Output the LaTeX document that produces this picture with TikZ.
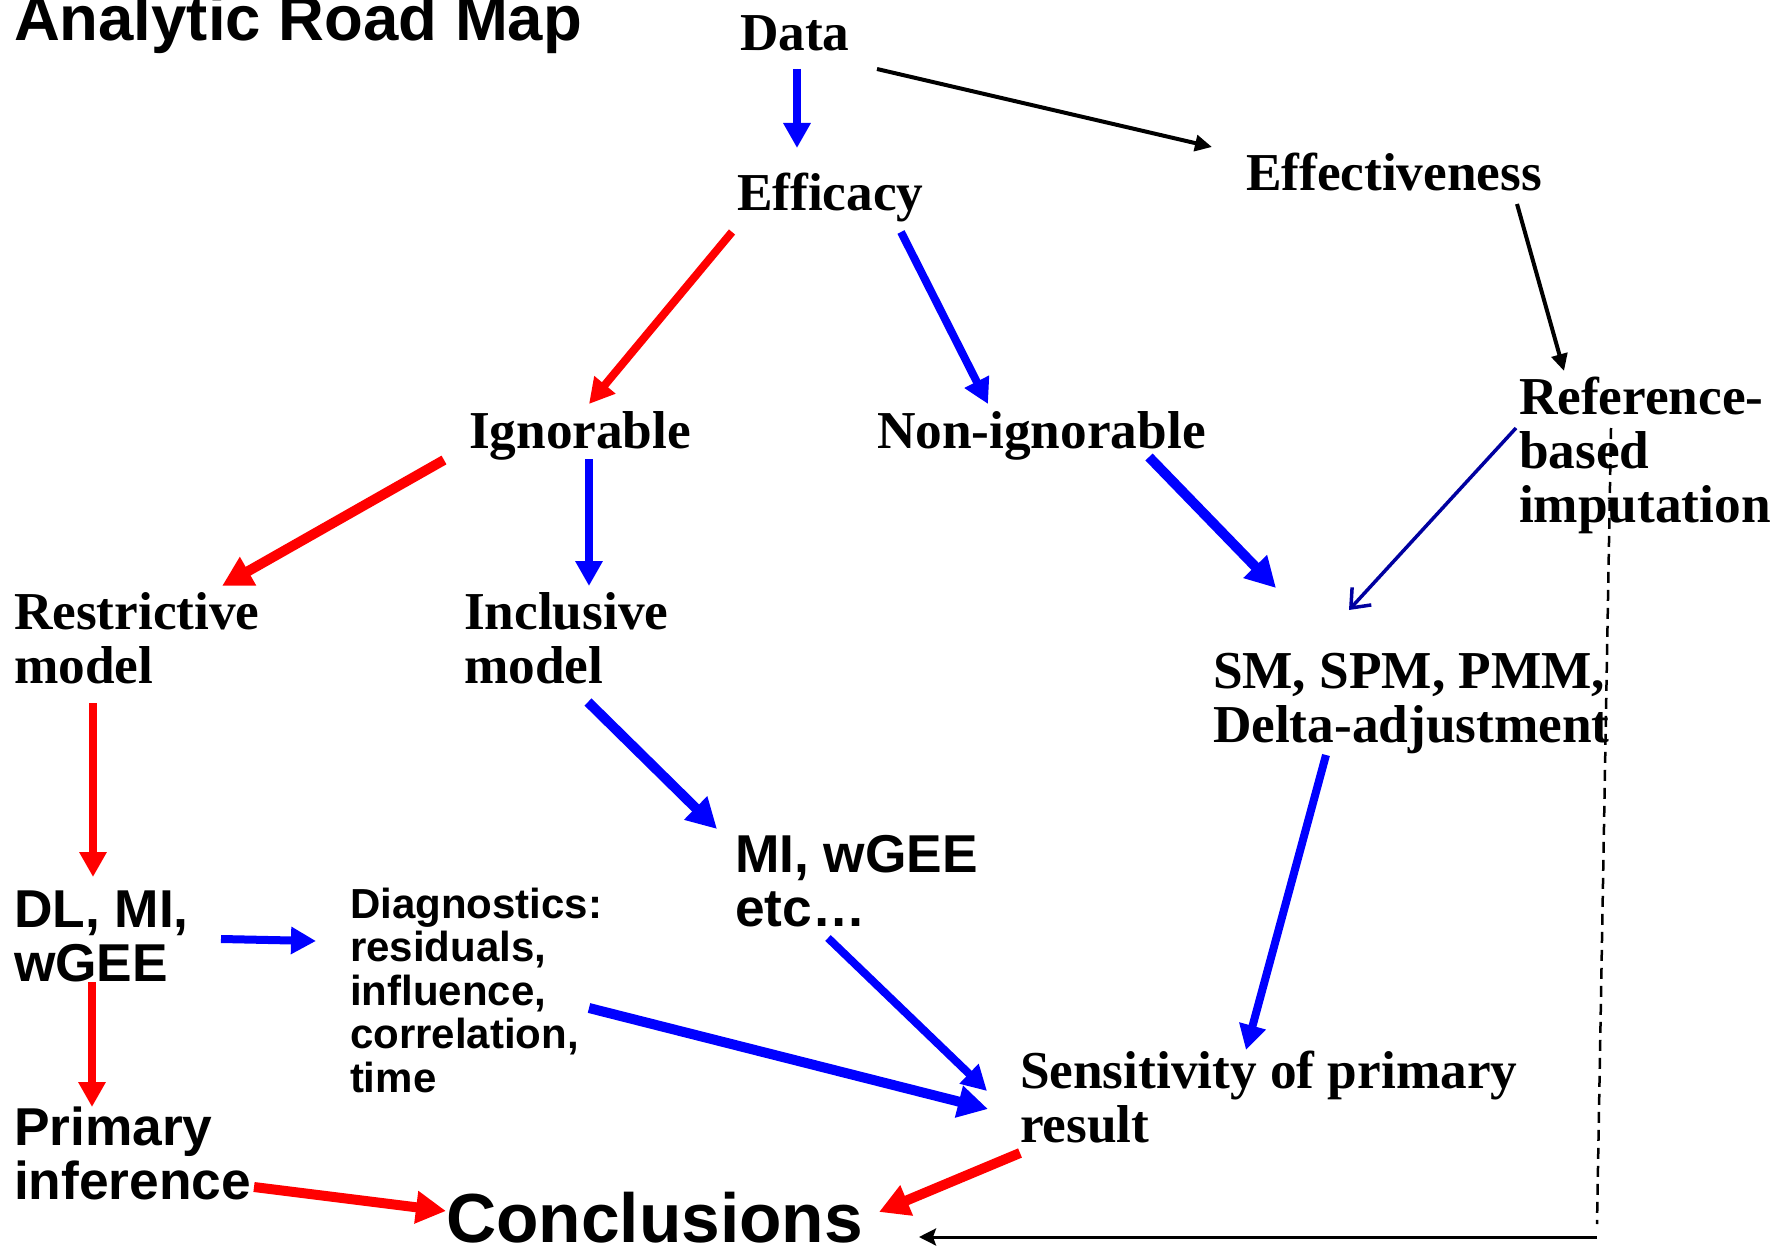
\documentclass[tikz,border=0pt]{standalone}
\usepackage{fontspec}
\setmainfont{Liberation Serif}
\setsansfont{Liberation Sans}
\usetikzlibrary{arrows.meta}
\definecolor{pblue}{RGB}{0,0,255}
\definecolor{pred}{RGB}{255,0,0}
\definecolor{pnavy}{RGB}{0,0,160}
\newcommand{\mlines}[1]{\begin{tabular}[t]{@{}l@{}}#1\end{tabular}}
\begin{document}
\begin{tikzpicture}[x=1pt,y=-1pt,
  lbl/.style={anchor=base west, inner sep=0pt, outer sep=0pt},
  serifbig/.style={lbl, font=\fontsize{53.3}{54}\selectfont\rmfamily\bfseries},
  sansbig/.style={lbl, font=\fontsize{53.3}{54}\selectfont\sffamily\bfseries},
  sanssmall/.style={lbl, font=\fontsize{42}{43.5}\selectfont\sffamily\bfseries},
  titlefont/.style={lbl, font=\fontsize{63.5}{64}\selectfont\sffamily\bfseries},
  conclfont/.style={lbl, font=\fontsize{69.5}{70}\selectfont\sffamily\bfseries},
  medarrow/.style={line width=8pt, -{Triangle[length=25pt,width=26pt]}},
  thickarrow/.style={line width=10pt, -{Triangle[length=30pt,width=31pt]}},
  bluemed/.style={medarrow, draw=pblue, fill=pblue},
  bluethick/.style={thickarrow, draw=pblue, fill=pblue},
  redmed/.style={medarrow, draw=pred, fill=pred},
  redthick/.style={thickarrow, draw=pred, fill=pred},
  blackarrow/.style={line width=4pt, draw=black, -{Triangle[length=17pt,width=16pt]}},
  navyarrow/.style={line width=3.5pt, draw=pnavy, -{Straight Barb[length=16pt,width=26pt]}},
  dashline/.style={line width=2.5pt, draw=black, dash pattern=on 11pt off 7pt},
  backarrow/.style={line width=3pt, draw=black, -{Stealth[length=17pt,width=17pt,inset=3pt]}}
]
\useasboundingbox[fill=white] (0,0) rectangle (1786,1249);

% nodes
\node[titlefont] (title) at (14,41) {Analytic Road Map};
\node[serifbig] (data) at (740,51) {Data};
\node[serifbig] (efficacy) at (737,211) {Efficacy};
\node[serifbig] (effect) at (1246,191) {Effectiveness};
\node[serifbig] (ign) at (469,448) {Ignorable};
\node[serifbig] (nonign) at (877,448) {Non-ignorable};
\node[serifbig] (ref) at (1519,414) {\mlines{Reference-\\based\\imputation}};
\node[serifbig] (restr) at (14,629) {\mlines{Restrictive\\model}};
\node[serifbig] (incl) at (464,629) {\mlines{Inclusive\\model}};
\node[serifbig] (sm) at (1213,688) {\mlines{SM, SPM, PMM,\\Delta-adjustment}};
\node[sansbig] (dl) at (14,927) {\mlines{DL, MI,\\wGEE}};
\node[sansbig] (mi) at (735,872) {\mlines{MI, wGEE\\etc\dots}};
\node[sanssmall] (diag) at (350,918) {\mlines{Diagnostics:\\residuals,\\influence,\\correlation,\\time}};
\node[serifbig] (sens) at (1020,1088) {\mlines{Sensitivity of primary\\result}};
\node[sansbig] (primary) at (14,1145) {\mlines{Primary\\inference}};
\node[conclfont] (concl) at (446,1242) {Conclusions};

% connectors
\draw[bluemed] ([shift={(57,18)}]data.base west) -- ([shift={(60,-63)}]efficacy.base west);
\draw[blackarrow] ([shift={(137,18)}]data.base west) -- ([shift={(-34,-44)}]effect.base west);
\draw[redmed] ([shift={(-5,21)}]efficacy.base west) -- ([shift={(120,-44)}]ign.base west);
\draw[bluemed] ([shift={(164,21)}]efficacy.base west) -- ([shift={(111,-44)}]nonign.base west);
\draw[blackarrow] ([shift={(271,13)}]effect.base west) -- ([shift={(45,-43)}]ref.base west);
\draw[redthick] ([shift={(-25,12)}]ign.base west) -- ([shift={(208,-43)}]restr.base west);
\draw[bluemed] ([shift={(120,11)}]ign.base west) -- ([shift={(125,-43)}]incl.base west);
\draw[bluethick] ([shift={(272,9)}]nonign.base west) -- ([shift={(63,-100)}]sm.base west);
\draw[navyarrow] ([shift={(-3,14)}]ref.base west) -- ([shift={(136,-78)}]sm.base west);
\draw[redmed] ([shift={(79,74)}]restr.base west) -- ([shift={(79,-50)}]dl.base west);
\draw[bluethick] ([shift={(124,73)}]incl.base west) -- ([shift={(-18,-43)}]mi.base west);
\draw[bluemed] ([shift={(113,67)}]sm.base west) -- ([shift={(226,-38)}]sens.base west);
\draw[bluemed] ([shift={(207,12)}]dl.base west) -- ([shift={(-34,23)}]diag.base west);
\draw[redmed] ([shift={(78,55)}]dl.base west) -- ([shift={(78,-38)}]primary.base west);
\draw[bluemed] ([shift={(93,66)}]mi.base west) -- ([shift={(-33,3)}]sens.base west);
\draw[bluethick] ([shift={(239,90)}]diag.base west) -- ([shift={(-32,21)}]sens.base west);
\draw[redthick] ([shift={(0,65)}]sens.base west) -- ([shift={(433,-30)}]concl.base west);
\draw[redthick] ([shift={(240,42)}]primary.base west) -- ([shift={(0,-31)}]concl.base west);

\coordinate (dashend) at (1597,1224);
\coordinate (corner) at (1597,1237);
\draw[dashline] ([shift={(92,14)}]ref.base west) -- (dashend);
\draw[backarrow] (corner) -- ([shift={(473,-5)}]concl.base west);
\end{tikzpicture}
\end{document}
